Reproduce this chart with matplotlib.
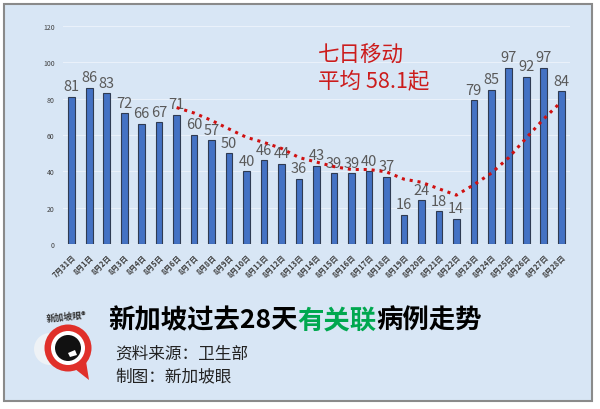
import matplotlib.pyplot as plt
from matplotlib.patches import Rectangle, Circle, Polygon

plt.rcParams['font.family'] = ['Noto Sans CJK SC', 'DejaVu Sans']

# 数据
fechas = ['7月31日'] + [f'8月{d}日' for d in range(1, 29)]
casos = [81, 86, 83, 72, 66, 67, 71, 60, 57, 50, 40, 46, 44, 36, 43,
         39, 39, 40, 37, 16, 24, 18, 14, 79, 85, 97, 92, 97, 84]
# 七日移动平均（从8月6日开始）
media_movil = [75.1, 72.1, 68.0, 63.3, 58.7, 55.9, 52.6, 47.6, 45.1, 42.6,
               41.0, 41.0, 39.7, 35.7, 34.0, 30.4, 26.9, 32.6, 39.0, 47.6,
               58.4, 68.9, 78.3]
y_ticks = [0, 20, 40, 60, 80, 100, 120]

fondo = '#d8e6f5'
W, H = 600, 410

fig = plt.figure(figsize=(6, 4.1), dpi=100)
fig.patch.set_facecolor('white')

# marco exterior
fig.add_artist(Rectangle((4 / W, 1 - 402 / H), 588 / W, 397 / H,
                         transform=fig.transFigure, facecolor=fondo,
                         edgecolor='#8a8a8a', linewidth=1.5, zorder=0))

ax = fig.add_axes([63 / W, 1 - 245 / H, 507 / W, 218 / H])
ax.set_facecolor('none')

x = list(range(len(casos)))
ax.bar(x, casos, width=0.38, color='#4472c4', edgecolor='#2f3b52',
       linewidth=0.8, zorder=3)
for xi, v in zip(x, casos):
    ax.text(xi, v + 2, str(v), ha='center', va='bottom', fontsize=10.5,
            color='#595959', zorder=4)

x_mm = x[len(casos) - len(media_movil):]
ax.plot(x_mm, media_movil, linestyle=(0, (1, 1.6)), color='#d01010',
        linewidth=2.2, zorder=5)

ax.set_xlim(-0.5, len(casos) - 0.5)
ax.set_ylim(0, 120)
ax.set_yticks(y_ticks)
ax.set_yticklabels([str(t) for t in y_ticks], fontsize=5, color='#404040')
ax.set_xticks(x)
ax.set_xticklabels(fechas, rotation=45, ha='right', rotation_mode='anchor',
                   fontsize=5.5, color='#404040', fontweight='bold')
ax.tick_params(axis='both', length=0, pad=6)
ax.grid(axis='y', color='#eaf1fa', linewidth=0.8, zorder=1)
for s in ax.spines.values():
    s.set_visible(False)
ax.axhline(0, color='#e8eef6', linewidth=1, zorder=2)

# anotación
fig.text(318 / W, 1 - 55 / H, '七日移动', fontsize=15.5, color='#cc1c1c',
         va='center', ha='left')
fig.text(318 / W, 1 - 81 / H, '平均 58.1起', fontsize=15.5, color='#cc1c1c',
         va='center', ha='left')

# título con colores
partes = [('新加坡过去28天', 'black'), ('有关联', '#00a84f'), ('病例走势', 'black')]
fig.canvas.draw()
renderer = fig.canvas.get_renderer()
xpos = 108
for txt, col in partes:
    t = fig.text(xpos / W, 1 - 321 / H, txt, fontsize=19, fontweight='bold',
                 color=col, va='center', ha='left')
    bb = t.get_window_extent(renderer=renderer)
    xpos += bb.width

fig.text(115 / W, 1 - 354 / H, '资料来源：卫生部', fontsize=12, color='#222222',
         va='center', ha='left')
fig.text(115 / W, 1 - 377 / H, '制图：新加坡眼', fontsize=12, color='#222222',
         va='center', ha='left')

# logo (ejes propios con aspecto igual, unidades = píxeles)
lx0, lx1, ly0, ly1 = 25, 105, 320, 392
lax = fig.add_axes([lx0 / W, 1 - ly1 / H, (lx1 - lx0) / W, (ly1 - ly0) / H])
lax.set_xlim(lx0, lx1)
lax.set_ylim(ly1, ly0)
lax.axis('off')
cx, cy = 68, 349
lax.add_patch(Circle((50, 350), 16, facecolor='#eef2f6', edgecolor='none'))
lax.add_patch(Polygon([(70, 366), (89, 381), (85, 356)], closed=True,
                      facecolor='#e0302a', edgecolor='none'))
lax.add_patch(Circle((cx, cy), 23.5, facecolor='#e0302a', edgecolor='none'))
lax.add_patch(Circle((cx, cy), 17, facecolor='white', edgecolor='none'))
lax.add_patch(Circle((cx, cy), 13, facecolor='#111111', edgecolor='none'))
lax.add_patch(Polygon([(68, 354), (75, 351), (77, 356), (70, 358)], closed=True,
                      facecolor='white', edgecolor='none'))
fig.text(67 / W, 1 - 317 / H, '新加坡眼®', fontsize=6.5, color='#333333',
         fontweight='bold', ha='center', va='center', rotation=6)

fig.savefig('out.png', dpi=100, facecolor=fig.get_facecolor())
